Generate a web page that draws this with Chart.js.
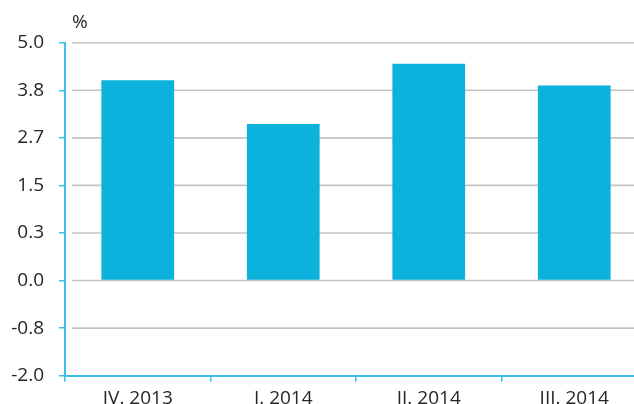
<!DOCTYPE html>
<html>
<head>
<meta charset="utf-8">
<script src="https://cdn.jsdelivr.net/npm/chart.js@4/dist/chart.umd.min.js"></script>
<style>
  html, body { margin: 0; padding: 0; background: #fff; overflow: hidden; width: 634px; height: 404px; }
  #wrap { width: 648px; height: 404px; position: relative; }
</style>
</head>
<body>
<div id="wrap"><canvas id="c" width="648" height="404"></canvas></div>
<script>
// Data
const categories = ['IV. 2013', 'I. 2014', 'II. 2014', 'III. 2014'];
const values = [4.21, 3.29, 4.56, 4.10];           // bar heights in axis units
const tickValues = [-2, -1, 0, 1, 2, 3, 4, 5];
const tickLabels = ['-2.0', '-0.8', '0.0', '0.3', '1.5', '2.7', '3.8', '5.0'];
const unitLabel = '%';

const AXIS = '#3cc0e4';
const BAR = '#0ab2dc';
const GRID = '#c4c4c4';
const FONT = "'Open Sans', sans-serif";
const TEXT = '#262626';

const gridPlugin = {
  id: 'customGrid',
  beforeDatasetsDraw(chart) {
    const { ctx, chartArea, scales } = chart;
    const y = scales.y;
    ctx.save();
    ctx.strokeStyle = GRID;
    ctx.lineWidth = 1.6;
    y.ticks.forEach(t => {
      if (t.value === tickValues[0]) return;
      const py = y.getPixelForValue(t.value);
      ctx.beginPath();
      ctx.moveTo(chartArea.left + 7, py);
      ctx.lineTo(chartArea.right, py);
      ctx.stroke();
    });
    ctx.restore();
  },
  afterDraw(chart) {
    const { ctx, chartArea } = chart;
    ctx.save();
    ctx.fillStyle = TEXT;
    ctx.font = "19px " + FONT;
    ctx.textBaseline = 'alphabetic';
    ctx.textAlign = 'left';
    ctx.fillText(unitLabel, chartArea.left + 7, 28);
    ctx.restore();
  }
};

new Chart(document.getElementById('c'), {
  type: 'bar',
  data: {
    labels: categories,
    datasets: [{
      data: values,
      backgroundColor: BAR,
      borderWidth: 0,
      barPercentage: 0.5,
      categoryPercentage: 1.0
    }]
  },
  options: {
    responsive: false,
    animation: false,
    layout: { padding: { top: 42.7, right: 1, left: 0, bottom: 0 } },
    plugins: { legend: { display: false }, tooltip: { enabled: false }, title: { display: false } },
    scales: {
      x: {
        grid: { display: true, drawOnChartArea: false, drawTicks: true, tickLength: 6, color: AXIS, lineWidth: 1.5 },
        border: { display: true, color: AXIS, width: 2 },
        ticks: { color: TEXT, font: { family: FONT, size: 19 }, padding: 5, maxRotation: 0 },
        afterFit(s) { s.height = 28.3; }
      },
      y: {
        min: -2, max: 5,
        afterBuildTicks(s) { s.ticks = tickValues.map(v => ({ value: v })); },
        grid: { display: true, drawOnChartArea: false, drawTicks: true, tickLength: 6, color: AXIS, lineWidth: 1.5 },
        border: { display: true, color: AXIS, width: 2 },
        ticks: {
          color: TEXT, font: { family: FONT, size: 19 }, padding: 15,
          callback(v) { const i = tickValues.indexOf(v); return i >= 0 ? tickLabels[i] : ''; }
        },
        afterFit(s) { s.width = 65; }
      }
    }
  },
  plugins: [gridPlugin]
});
</script>
</body>
</html>
